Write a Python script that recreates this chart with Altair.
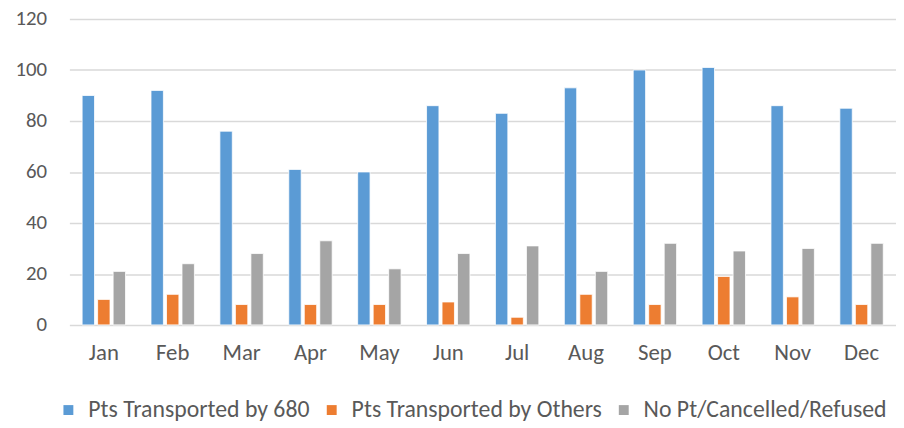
import altair as alt
import pandas as pd

months = ["Jan", "Feb", "Mar", "Apr", "May", "Jun", "Jul", "Aug", "Sep", "Oct", "Nov", "Dec"]
s680 = [90, 92, 76, 61, 60, 86, 83, 93, 100, 101, 86, 85]
others = [10, 12, 8, 8, 8, 9, 3, 12, 8, 19, 11, 8]
nopt = [21, 24, 28, 33, 22, 28, 31, 21, 32, 29, 30, 32]
series = ["Pts Transported by 680", "Pts Transported by Others", "No Pt/Cancelled/Refused"]
colors = ["#5B9BD5", "#ED7D31", "#A5A5A5"]
y_ticks = [0, 20, 40, 60, 80, 100, 120]

rows = []
for i, m in enumerate(months):
    for s, vals in zip(series, [s680, others, nopt]):
        rows.append({"month": m, "series": s, "value": vals[i]})
df = pd.DataFrame(rows)

FONT = "Carlito, Calibri, 'Liberation Sans Narrow', 'DejaVu Sans Condensed', sans-serif"
TXT = "#595959"

chart = alt.Chart(df).mark_bar(stroke="white", strokeWidth=0.8).encode(
    x=alt.X("month:N", sort=months,
            scale=alt.Scale(paddingInner=0.37, paddingOuter=0.185),
            axis=alt.Axis(title=None, labelAngle=0, domain=False, ticks=False,
                          labelFontSize=23, labelColor=TXT, labelFont=FONT,
                          labelPadding=17)),
    xOffset=alt.XOffset("series:N", sort=series, scale=alt.Scale(paddingInner=0.2)),
    y=alt.Y("value:Q", scale=alt.Scale(domain=[0, 120]),
            axis=alt.Axis(title=None, values=y_ticks, domain=False, ticks=False,
                          gridColor="#D9D9D9", gridWidth=1.5,
                          labelFontSize=21, labelColor=TXT, labelFont=FONT,
                          labelPadding=23)),
    color=alt.Color("series:N", sort=series,
                    scale=alt.Scale(domain=series, range=colors),
                    legend=alt.Legend(title=None, orient="none", legendX=-13, legendY=383,
                                      direction="horizontal", symbolType="square",
                                      symbolSize=100, symbolStrokeWidth=0,
                                      labelFontSize=24, labelColor=TXT, labelFont=FONT,
                                      labelLimit=0, columnPadding=10, labelOffset=8)),
).properties(
    width=835, height=309,
    padding={"left": 62, "top": 9, "right": 0, "bottom": 101},
    autosize=alt.AutoSizeParams(type="none"),
).configure_view(stroke=None)

chart.save("out.html", embed_options={"renderer": "svg", "actions": False})
